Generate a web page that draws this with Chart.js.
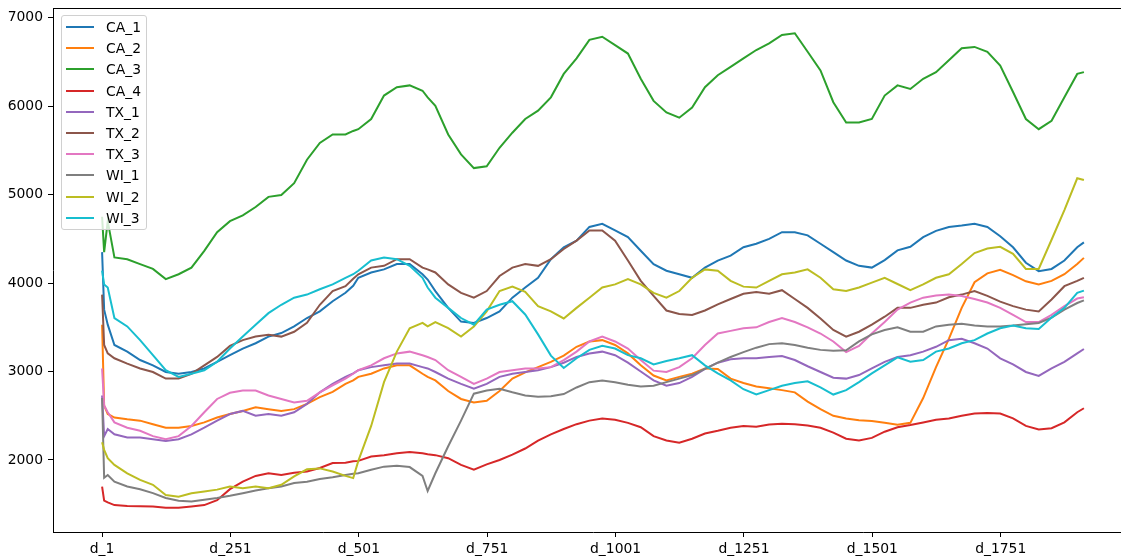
<!DOCTYPE html>
<html>
<head>
<meta charset="utf-8">
<script src="https://cdn.jsdelivr.net/npm/chart.js@4.4.0/dist/chart.umd.min.js"></script>
<style>
  html, body { margin: 0; padding: 0; background: #fff; overflow: hidden; }
  #wrap { position: relative; width: 1140px; height: 558px; }
  #legend {
    position: absolute; left: 61px; top: 15px; width: 86px; height: 215px;
    box-sizing: border-box; border: 1px solid #d0d0d0; border-radius: 3px;
    background: rgba(255,255,255,0.8);
    font-family: 'DejaVu Sans'; font-size: 13.9px; color: #000;
  }
  .swatch { position: absolute; left: 4px; width: 28px; height: 2px; }
  .lbl { position: absolute; left: 44px; height: 20px; line-height: 20px; white-space: nowrap; }
</style>
</head>
<body>
<div id="wrap">
  <canvas id="chart"></canvas>
  <div id="legend"></div>
</div>
<script>
// day numbers the values were read at
const days = [1, 5, 12, 25, 50, 75, 100, 125, 150, 175, 200, 225, 250,
  275, 300, 325, 350, 375, 400, 425, 450, 475, 490, 500, 525, 550, 575, 600, 625, 635,
  650, 675, 700, 725, 750, 775, 800, 825, 850, 875, 900, 925, 950, 975, 1000, 1025, 1050, 1075, 1100, 1125, 1150, 1175, 1200, 1225, 1250,
  1275, 1300, 1325, 1350, 1375, 1400, 1425, 1450, 1475, 1500, 1525, 1550, 1575, 1600, 1625, 1650, 1675, 1700, 1725, 1750, 1775, 1800, 1825, 1850, 1875, 1900, 1913]

const names = ['CA_1', 'CA_2', 'CA_3', 'CA_4', 'TX_1', 'TX_2', 'TX_3', 'WI_1', 'WI_2', 'WI_3']

const ca1 = [4350, 3700, 3530, 3300, 3225, 3130, 3070, 2995, 2975, 2995, 3035, 3110, 3185,
  3260, 3320, 3395, 3435, 3510, 3605, 3680, 3795, 3890, 3970, 4060, 4120, 4155, 4215, 4215, 4100, 4040,
  3910, 3720, 3565, 3550, 3605, 3680, 3835, 3950, 4060, 4270, 4405, 4480, 4635, 4670, 4595, 4520, 4365, 4215, 4140, 4100, 4060, 4175, 4255, 4310, 4405,
  4445, 4500, 4575, 4575, 4540, 4445, 4350, 4255, 4195, 4175, 4260, 4370, 4410, 4520, 4590, 4635, 4650, 4670, 4635, 4530, 4405, 4230, 4135, 4160, 4255, 4405, 4460]
const ca2 = [3530, 2615, 2520, 2480, 2460, 2445, 2405, 2365, 2365, 2385, 2425, 2480, 2520,
  2555, 2595, 2575, 2555, 2575, 2635, 2710, 2770, 2860, 2900, 2940, 2975, 3035, 3070, 3070, 2975, 2940,
  2900, 2780, 2690, 2650, 2670, 2780, 2920, 2990, 3050, 3110, 3180, 3280, 3340, 3355, 3300, 3205, 3070, 2955, 2900, 2940, 2975, 3035, 3030, 2920, 2870,
  2830, 2810, 2790, 2765, 2660, 2575, 2500, 2470, 2450, 2440, 2420, 2400, 2420, 2700, 3050, 3370, 3720, 4010, 4110, 4150, 4090, 4020, 3985, 4025, 4100, 4215, 4285]
const ca3 = [4750, 4350, 4700, 4290, 4270, 4215, 4160, 4045, 4100, 4175, 4365, 4575, 4700,
  4765, 4860, 4975, 4995, 5130, 5395, 5585, 5680, 5680, 5720, 5740, 5855, 6120, 6215, 6235, 6175, 6100,
  6005, 5680, 5455, 5300, 5320, 5530, 5700, 5855, 5950, 6100, 6365, 6540, 6750, 6785, 6690, 6595, 6310, 6060, 5930, 5870, 5985, 6215, 6350, 6445, 6540,
  6635, 6710, 6805, 6825, 6615, 6405, 6045, 5815, 5815, 5855, 6120, 6235, 6195, 6310, 6385, 6520, 6655, 6670, 6615, 6460, 6160, 5855, 5740, 5835, 6100, 6365, 6385]
const ca4 = [1700, 1540, 1520, 1490, 1480, 1478, 1475, 1460, 1460, 1475, 1490, 1545, 1670,
  1755, 1820, 1850, 1830, 1855, 1870, 1910, 1965, 1970, 1985, 1990, 2040, 2055, 2075, 2090, 2075, 2065,
  2055, 2020, 1945, 1890, 1950, 2000, 2060, 2130, 2220, 2290, 2350, 2405, 2445, 2470, 2455, 2420, 2370, 2270, 2220, 2195, 2240, 2300, 2330, 2365, 2385,
  2375, 2400, 2410, 2405, 2390, 2365, 2310, 2240, 2220, 2250, 2320, 2370, 2395, 2425, 2455, 2470, 2500, 2525, 2530, 2525, 2470, 2385, 2345, 2360, 2425, 2540, 2585]
const tx1 = [2730, 2270, 2350, 2290, 2255, 2255, 2235, 2215, 2235, 2290, 2365, 2445, 2520,
  2555, 2500, 2520, 2500, 2540, 2635, 2765, 2860, 2940, 2980, 3015, 3050, 3070, 3090, 3090, 3050, 3035,
  2995, 2920, 2860, 2805, 2860, 2940, 2975, 2995, 3015, 3050, 3100, 3165, 3205, 3225, 3185, 3100, 3000, 2900, 2840, 2870, 2940, 3030, 3100, 3140, 3150,
  3150, 3165, 3175, 3130, 3060, 2995, 2930, 2920, 2960, 3035, 3110, 3165, 3185, 3225, 3280, 3355, 3370, 3320, 3260, 3150, 3080, 2995, 2950, 3035, 3110, 3205, 3255]
const tx2 = [3870, 3300, 3205, 3150, 3090, 3035, 2995, 2920, 2920, 2975, 3070, 3165, 3290,
  3355, 3395, 3415, 3395, 3450, 3550, 3755, 3910, 3965, 4050, 4100, 4175, 4195, 4270, 4270, 4175, 4155,
  4120, 3985, 3890, 3835, 3910, 4080, 4175, 4215, 4195, 4270, 4385, 4480, 4595, 4595, 4480, 4255, 4025, 3855, 3690, 3650, 3640, 3690, 3760, 3820, 3880,
  3900, 3880, 3920, 3820, 3720, 3600, 3470, 3395, 3450, 3530, 3620, 3720, 3720, 3755, 3780, 3840, 3870, 3910, 3855, 3790, 3740, 3700, 3680, 3815, 3965, 4025, 4060]
const tx3 = [3035, 2615, 2540, 2425, 2365, 2330, 2270, 2235, 2270, 2385, 2540, 2690, 2760,
  2785, 2785, 2730, 2690, 2650, 2670, 2765, 2845, 2920, 2975, 3015, 3070, 3150, 3205, 3225, 3185, 3165,
  3130, 3015, 2940, 2860, 2920, 2995, 3015, 3035, 3035, 3050, 3130, 3225, 3340, 3395, 3340, 3260, 3130, 3010, 2995, 3050, 3150, 3300, 3430, 3460, 3490,
  3500, 3560, 3605, 3560, 3500, 3430, 3340, 3220, 3290, 3430, 3560, 3700, 3780, 3835, 3860, 3870, 3855, 3820, 3780, 3720, 3640, 3560, 3560, 3640, 3740, 3825, 3840]
const wi1 = [2700, 1800, 1830, 1755, 1700, 1670, 1625, 1570, 1540, 1530, 1550, 1570, 1595,
  1625, 1655, 1680, 1700, 1740, 1755, 1785, 1805, 1830, 1845, 1850, 1890, 1925, 1935, 1920, 1820, 1650,
  1850, 2155, 2445, 2750, 2785, 2805, 2765, 2730, 2715, 2720, 2745, 2820, 2880, 2900, 2880, 2850, 2830, 2840, 2880, 2920, 2960, 3030, 3100, 3165, 3220,
  3270, 3310, 3320, 3300, 3270, 3245, 3235, 3240, 3340, 3420, 3470, 3500, 3450, 3450, 3510, 3530, 3540, 3520, 3510, 3510, 3520, 3535, 3550, 3610, 3700, 3775, 3805]
const wi2 = [2200, 2115, 2020, 1945, 1850, 1775, 1720, 1605, 1585, 1625, 1645, 1665, 1700,
  1680, 1700, 1680, 1720, 1815, 1895, 1905, 1870, 1820, 1795, 1990, 2385, 2880, 3225, 3490, 3550, 3510,
  3560, 3490, 3395, 3510, 3680, 3910, 3960, 3900, 3740, 3680, 3600, 3720, 3835, 3950, 3985, 4045, 3985, 3890, 3835, 3910, 4060, 4155, 4140, 4025, 3960,
  3950, 4025, 4100, 4120, 4155, 4060, 3930, 3910, 3950, 4005, 4060, 3990, 3920, 3985, 4060, 4100, 4215, 4340, 4390, 4410, 4330, 4160, 4160, 4490, 4825, 5185, 5165]
const wi3 = [4140, 3985, 3950, 3605, 3510, 3355, 3185, 3015, 2940, 2975, 3015, 3110, 3260,
  3395, 3530, 3660, 3755, 3835, 3870, 3930, 3985, 4060, 4100, 4140, 4255, 4290, 4270, 4195, 4060, 3950,
  3835, 3720, 3605, 3530, 3700, 3755, 3795, 3645, 3420, 3180, 3040, 3150, 3245, 3290, 3260, 3185, 3150, 3080, 3120, 3150, 3185, 3070, 2980, 2900, 2800,
  2740, 2790, 2840, 2870, 2890, 2820, 2740, 2790, 2880, 2980, 3070, 3160, 3110, 3130, 3225, 3260, 3320, 3355, 3430, 3490, 3520, 3490, 3480, 3610, 3720, 3890, 3915]

const xTicks = [1, 251, 501, 751, 1001, 1251, 1501, 1751]
const yTicks = [2000, 3000, 4000, 5000, 6000, 7000]

const colors = ['#1f77b4', '#ff7f0e', '#2ca02c', '#d62728', '#9467bd',
  '#8c564b', '#e377c2', '#7f7f7f', '#bcbd22', '#17becf']

const series = [ca1, ca2, ca3, ca4, tx1, tx2, tx3, wi1, wi2, wi3]

// legend in the top left corner, like the matplotlib one
const legend = document.getElementById('legend')
names.forEach((name, i) => {
  let cy = 11 + 21.2 * i
  let sw = document.createElement('div')
  sw.className = 'swatch'
  sw.style.top = (cy - 1) + 'px'
  sw.style.background = colors[i]
  legend.appendChild(sw)
  let t = document.createElement('div')
  t.className = 'lbl'
  t.style.top = (cy - 10) + 'px'
  t.textContent = name
  legend.appendChild(t)
})

// top and right spines
const frame = {
  id: 'frame',
  afterDraw(chart) {
    const { ctx, chartArea: a } = chart
    ctx.save()
    ctx.strokeStyle = '#000'
    ctx.lineWidth = 1
    ctx.beginPath()
    ctx.moveTo(a.left, a.top + 0.5)
    ctx.lineTo(a.right, a.top + 0.5)
    ctx.moveTo(a.right - 0.5, a.top)
    ctx.lineTo(a.right - 0.5, a.bottom)
    ctx.stroke()
    ctx.restore()
  }
}

const tickFont = { family: 'DejaVu Sans', size: 13.9 }

function noPad(s) {
  s.paddingTop = 0
  s.paddingBottom = 0
  s.paddingLeft = 0
  s.paddingRight = 0
}

new Chart(document.getElementById('chart'), {
  type: 'line',
  data: {
    datasets: series.map((vals, i) => ({
      label: names[i],
      data: vals.map((v, k) => ({ x: days[k], y: v })),
      borderColor: colors[i],
      backgroundColor: colors[i],
      borderWidth: 2,
      pointRadius: 0,
      tension: 0,
      fill: false,
      order: names.length - i
    }))
  },
  options: {
    responsive: true,
    maintainAspectRatio: false,
    animation: false,
    devicePixelRatio: 1,
    layout: { padding: { top: 8, right: 7, left: 0, bottom: 0 } },
    plugins: { legend: { display: false }, tooltip: { enabled: false } },
    scales: {
      x: {
        type: 'linear',
        min: -94.6,
        max: 2008.6,
        afterBuildTicks: s => { s.ticks = xTicks.map(v => ({ value: v })) },
        afterFit: s => { s.height = 26; noPad(s) },
        ticks: { callback: v => 'd_' + v, color: '#000', font: tickFont, padding: 4, maxRotation: 0, autoSkip: false },
        grid: { drawOnChartArea: false, drawTicks: true, tickLength: 5, tickColor: '#000', tickWidth: 1 },
        border: { display: true, color: '#000', width: 1 }
      },
      y: {
        min: 1186,
        max: 7110,
        afterBuildTicks: s => { s.ticks = yTicks.map(v => ({ value: v })) },
        afterFit: s => { s.width = 53; noPad(s) },
        ticks: { callback: v => String(v), color: '#000', font: tickFont, padding: 5 },
        grid: { drawOnChartArea: false, drawTicks: true, tickLength: 5, tickColor: '#000', tickWidth: 1 },
        border: { display: true, color: '#000', width: 1 }
      }
    }
  },
  plugins: [frame]
})
</script>
</body>
</html>
